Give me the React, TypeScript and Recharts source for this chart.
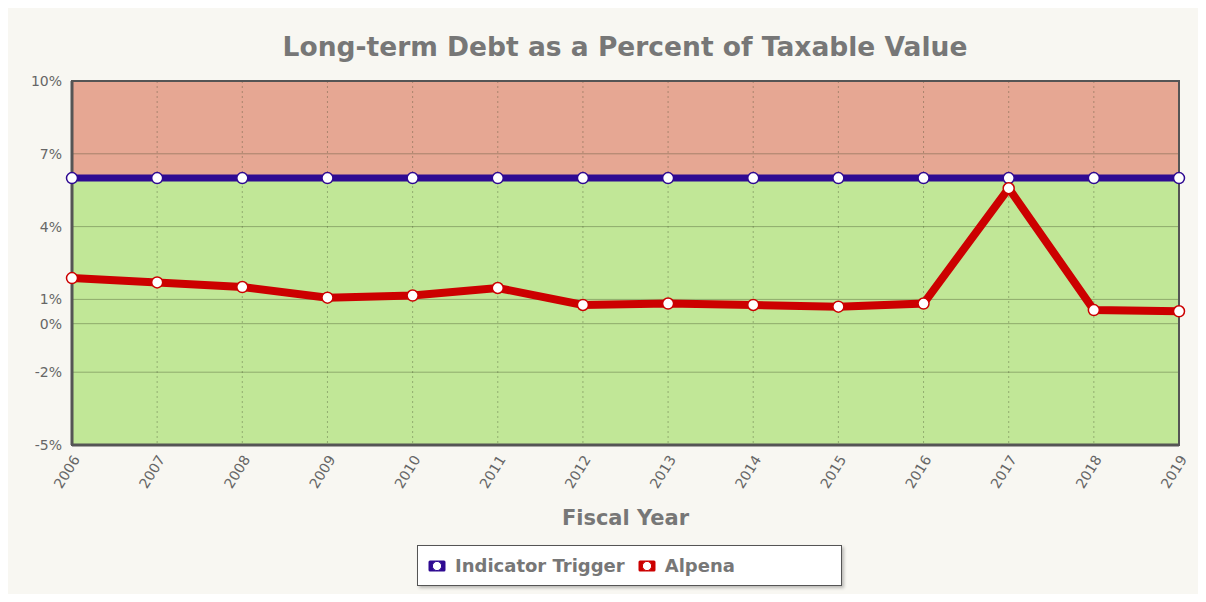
import React from 'react';
import {
  LineChart,
  Line,
  XAxis,
  YAxis,
  CartesianGrid,
  ReferenceArea,
  Legend,
} from 'recharts';

const years = ['2006', '2007', '2008', '2009', '2010', '2011', '2012', '2013', '2014', '2015', '2016', '2017', '2018', '2019'];
const triggerValues = [6, 6, 6, 6, 6, 6, 6, 6, 6, 6, 6, 6, 6, 6];
const alpenaValues = [1.88, 1.7, 1.51, 1.07, 1.16, 1.47, 0.77, 0.83, 0.77, 0.7, 0.83, 5.58, 0.56, 0.51];
const yTicks = [-5, -2, 0, 1, 4, 7, 10];
// grid line values (trigger level 6 splits the red / green zones)
const gridValues = [-5, -2, 0, 1, 4, 6, 7, 10];
// zone fills, top band first: 10–7, 7–6 red; below 6 green
const zoneFills = ['#e6a793', '#e6a793', '#c1e797', '#c1e797', '#c1e797', '#c1e797', '#c1e797', '#c1e797'];

const TITLE = 'Long-term Debt as a Percent of Taxable Value';
const X_LABEL = 'Fiscal Year';
const TRIGGER_NAME = 'Indicator Trigger';
const ALPENA_NAME = 'Alpena';
const LEGEND_ORDER = [TRIGGER_NAME, ALPENA_NAME];
const TRIGGER_COLOR = '#2f0a92';
const ALPENA_COLOR = '#cc0000';

const data = years.map((y, i) => ({
  year: y,
  trigger: triggerValues[i],
  alpena: alpenaValues[i],
}));

const FONT = '"DejaVu Sans", sans-serif';

const LegendIcon = ({ color }: { color: string }) => (
  <svg width={18} height={14} style={{ marginRight: 9 }}>
    <rect x={0.5} y={1.5} width={17} height={11} rx={1.5} fill={color} />
    <circle cx={9} cy={7} r={4.6} fill="#fff" stroke={color} strokeWidth={1} />
  </svg>
);

const renderLegend = (props: any) => {
  const payload = [...(props.payload || [])].sort(
    (a: any, b: any) => LEGEND_ORDER.indexOf(a.value) - LEGEND_ORDER.indexOf(b.value)
  );
  return (
    <div
      style={{
        width: 425,
        height: 41,
        boxSizing: 'border-box',
        background: '#fff',
        border: '1px solid #555',
        boxShadow: '2px 2px 3px rgba(0,0,0,0.25)',
        display: 'flex',
        alignItems: 'center',
        paddingLeft: 10,
        fontFamily: FONT,
        fontWeight: 'bold',
        fontSize: 18,
        color: '#777',
      }}
    >
      {payload.map((p: any) => (
        <span key={p.value} style={{ display: 'inline-flex', alignItems: 'center', marginRight: 13 }}>
          <LegendIcon color={p.color} />
          {p.value}
        </span>
      ))}
    </div>
  );
};

export default function App() {
  return (
    <div style={{ position: 'relative', width: 1206, height: 602, margin: -8, fontFamily: FONT }}>
      <div
        style={{
          position: 'absolute',
          left: 6,
          top: 7,
          width: 1194,
          height: 593,
          boxSizing: 'border-box',
          border: '1px solid #cfcfcf',
          background: '#f8f7f2',
        }}
      />
      <div
        style={{
          position: 'absolute',
          left: 0,
          top: 31,
          width: 1250,
          textAlign: 'center',
          fontFamily: FONT,
          fontWeight: 'bold',
          fontSize: 26.5,
          color: '#777',
          lineHeight: '32px',
        }}
      >
        {TITLE}
      </div>
      <div style={{ position: 'absolute', left: 0, top: 0 }}>
        <LineChart
          width={1206}
          height={602}
          data={data}
          margin={{ top: 81, right: 27, bottom: 97, left: 12 }}
        >
          <CartesianGrid
            horizontal={true}
            vertical={false}
            horizontalValues={gridValues}
            horizontalFill={zoneFills}
            fillOpacity={1}
            stroke="rgba(50,60,30,0.35)"
          />
          <CartesianGrid
            horizontal={false}
            vertical={true}
            stroke="rgba(60,70,40,0.35)"
            strokeDasharray="2 3"
          />
          <XAxis
            dataKey="year"
            height={60}
            interval={0}
            tickLine={false}
            axisLine={{ stroke: '#555', strokeWidth: 3 }}
            angle={-58}
            textAnchor="end"
            tick={{ fill: '#666', fontSize: 14, fontFamily: FONT }}
            tickMargin={3}
            label={{
              value: X_LABEL,
              position: 'bottom',
              offset: 5,
              style: { fill: '#777', fontSize: 21, fontWeight: 'bold', fontFamily: FONT },
            }}
          />
          <YAxis
            width={60}
            domain={[-5, 10]}
            ticks={yTicks}
            interval={0}
            tickLine={false}
            axisLine={{ stroke: '#555', strokeWidth: 3 }}
            tickFormatter={(v: number) => `${v}%`}
            tick={{ fill: '#666', fontSize: 14, fontFamily: FONT }}
            tickMargin={4}
          />
          <ReferenceArea
            y1={-5}
            y2={10}
            fill="none"
            stroke="#555"
            strokeWidth={2}
            ifOverflow="visible"
          />
          <Line
            type="linear"
            dataKey="trigger"
            name={TRIGGER_NAME}
            stroke={TRIGGER_COLOR}
            strokeWidth={7}
            dot={{ r: 5.5, fill: '#fff', stroke: TRIGGER_COLOR, strokeWidth: 1.5 }}
            activeDot={false}
            isAnimationActive={false}
          />
          <Line
            type="linear"
            dataKey="alpena"
            name={ALPENA_NAME}
            stroke={ALPENA_COLOR}
            strokeWidth={8}
            dot={{ r: 5.5, fill: '#fff', stroke: ALPENA_COLOR, strokeWidth: 1.5 }}
            activeDot={false}
            isAnimationActive={false}
          />
          <Legend
            layout="horizontal"
            verticalAlign="middle"
            align="center"
            wrapperStyle={{ left: 417, top: 545, width: 425, height: 41 }}
            content={renderLegend}
          />
        </LineChart>
      </div>
    </div>
  );
}
